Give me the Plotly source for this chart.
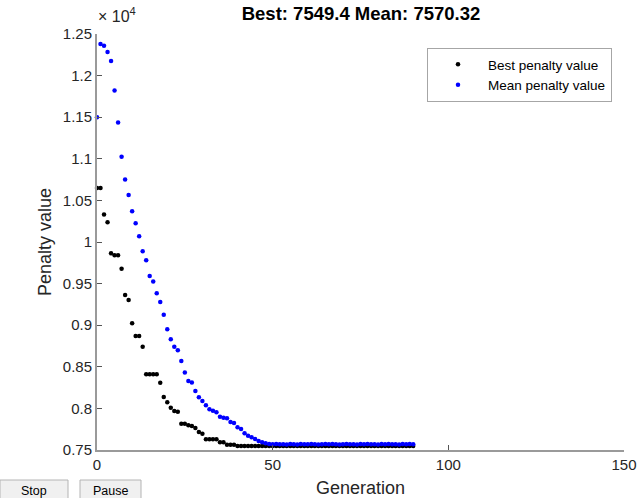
import plotly.graph_objects as go

# ---------------- data ----------------
generations = list(range(0, 91))

best_penalty = [
    10650, 10650, 10330, 10237, 9864, 9840, 9840, 9679, 9363, 9303,
    9023, 8870, 8870, 8741, 8410, 8410, 8410, 8410, 8309, 8137,
    8073, 8008, 7968, 7960, 7816, 7816, 7797, 7788, 7764, 7716,
    7696, 7628, 7628, 7628, 7628, 7592, 7592, 7564, 7564, 7564,
    7549.4, 7549.4, 7549.4, 7549.4, 7549.4, 7549.4, 7549.4, 7549.4, 7549.4, 7549.4,
    7549.4, 7549.4, 7549.4, 7549.4, 7549.4, 7549.4, 7549.4, 7549.4, 7549.4, 7549.4,
    7549.4, 7549.4, 7549.4, 7549.4, 7549.4, 7549.4, 7549.4, 7549.4, 7549.4, 7549.4,
    7549.4, 7549.4, 7549.4, 7549.4, 7549.4, 7549.4, 7549.4, 7549.4, 7549.4, 7549.4,
    7549.4, 7549.4, 7549.4, 7549.4, 7549.4, 7549.4, 7549.4, 7549.4, 7549.4, 7549.4,
    7549.4,
]

mean_penalty = [
    11500, 12380, 12360, 12285, 12175, 11820, 11435, 11025, 10750, 10565,
    10370, 10225, 10070, 9890, 9780, 9590, 9525, 9385, 9280, 9125,
    8950, 8830, 8740, 8700, 8570, 8430, 8330, 8310, 8210, 8133,
    8090, 8037, 7990, 7972, 7953, 7900, 7888, 7881, 7836, 7824,
    7773, 7752, 7700, 7672, 7652, 7632, 7608, 7592, 7580, 7572,
    7569, 7571, 7568, 7570, 7567, 7572, 7569, 7566, 7571, 7570,
    7568, 7573, 7569, 7567, 7570, 7572, 7568, 7571, 7569, 7566,
    7570, 7573, 7568, 7570, 7567, 7571, 7569, 7572, 7568, 7570,
    7566, 7571, 7569, 7573, 7568, 7570, 7567, 7572, 7569, 7571,
    7570.32,
]

y_tick_values = [7500, 8000, 8500, 9000, 9500, 10000, 10500, 11000, 11500, 12000, 12500]
y_tick_labels = ["0.75", "0.8", "0.85", "0.9", "0.95", "1", "1.05", "1.1", "1.15", "1.2", "1.25"]
x_tick_values = [0, 50, 100, 150]
x_tick_labels = ["0", "50", "100", "150"]

series_names = ["Best penalty value", "Mean penalty value"]
title_text = "Best: 7549.4 Mean: 7570.32"
x_title = "Generation"
y_title = "Penalty value"
exponent_text = "\u00d7 10<sup>4</sup>"
button_labels = ["Stop", "Pause"]

# ---------------- layout geometry (pixels) ----------------
W, H = 639, 498
L, R, T, B = 97, 624, 34, 450
FONT = "Liberation Sans, Arial, Helvetica, sans-serif"
TXT = "#262626"
AX = "#9a9a9a"


def px_x(px):
    return (px - L) / (R - L)


def px_y(py):
    return (B - py) / (B - T)


fig = go.Figure()
fig.add_trace(go.Scatter(
    x=generations, y=best_penalty, mode="markers", name=series_names[0],
    marker=dict(color="black", size=4.5), cliponaxis=False,
))
fig.add_trace(go.Scatter(
    x=generations, y=mean_penalty, mode="markers", name=series_names[1],
    marker=dict(color="#0000ff", size=4.5), cliponaxis=False,
))

shapes = []
annotations = []

# exponent label
annotations.append(dict(
    text=exponent_text, xref="paper", yref="paper", x=px_x(96), y=px_y(27),
    xanchor="left", yanchor="bottom", showarrow=False,
    font=dict(family=FONT, size=16, color=TXT),
))

# UI buttons
buttons = [(0, 68), (80, 141)]
for (x0, x1), lab in zip(buttons, button_labels):
    shapes.append(dict(
        type="rect", xref="paper", yref="paper",
        x0=px_x(x0), x1=px_x(x1), y0=px_y(500), y1=px_y(480),
        fillcolor="#f0f0f0", line=dict(color="#b4b4b4", width=1), layer="above",
    ))
    annotations.append(dict(
        text=lab, xref="paper", yref="paper", x=px_x((x0 + x1) / 2), y=px_y(491),
        xanchor="center", yanchor="middle", showarrow=False,
        font=dict(family=FONT, size=12.5, color="black"),
    ))

fig.update_layout(
    width=W, height=H,
    margin=dict(l=L, r=W - R, t=T, b=H - B, pad=0, autoexpand=False),
    paper_bgcolor="white", plot_bgcolor="white",
    font=dict(family=FONT, color=TXT),
    title=dict(
        text="<b>" + title_text + "</b>", x=px_x(361), xref="paper",
        y=1 - 14 / H, yref="container", xanchor="center", yanchor="middle",
        font=dict(family=FONT, size=18.5, color="black"),
    ),
    showlegend=True,
    legend=dict(
        x=px_x(612), y=px_y(48), xanchor="right", yanchor="top",
        bgcolor="white", bordercolor="#a6a6a6", borderwidth=1,
        font=dict(family=FONT, size=13.5, color="black"),
        itemwidth=50, tracegroupgap=0,
    ),
    shapes=shapes,
    annotations=annotations,
)

fig.update_xaxes(
    range=[0, 150], tickvals=x_tick_values, ticktext=x_tick_labels,
    showgrid=False, zeroline=False, showline=True, linecolor=AX, linewidth=2,
    ticks="inside", ticklen=5, tickcolor="#555555", tickwidth=1,
    tickfont=dict(family=FONT, size=15, color=TXT), mirror=False, automargin=False,
    title=dict(text=x_title, font=dict(family=FONT, size=18, color=TXT), standoff=9),
)
fig.update_yaxes(
    range=[7500, 12500], tickvals=y_tick_values, ticktext=y_tick_labels,
    showgrid=False, zeroline=False, showline=True, linecolor=AX, linewidth=2,
    ticks="inside", ticklen=5, tickcolor="#555555", tickwidth=1,
    tickfont=dict(family=FONT, size=15, color=TXT), mirror=False, automargin=False,
    title=dict(text=y_title, font=dict(family=FONT, size=18, color=TXT), standoff=6),
)

fig.write_html("out.html")
